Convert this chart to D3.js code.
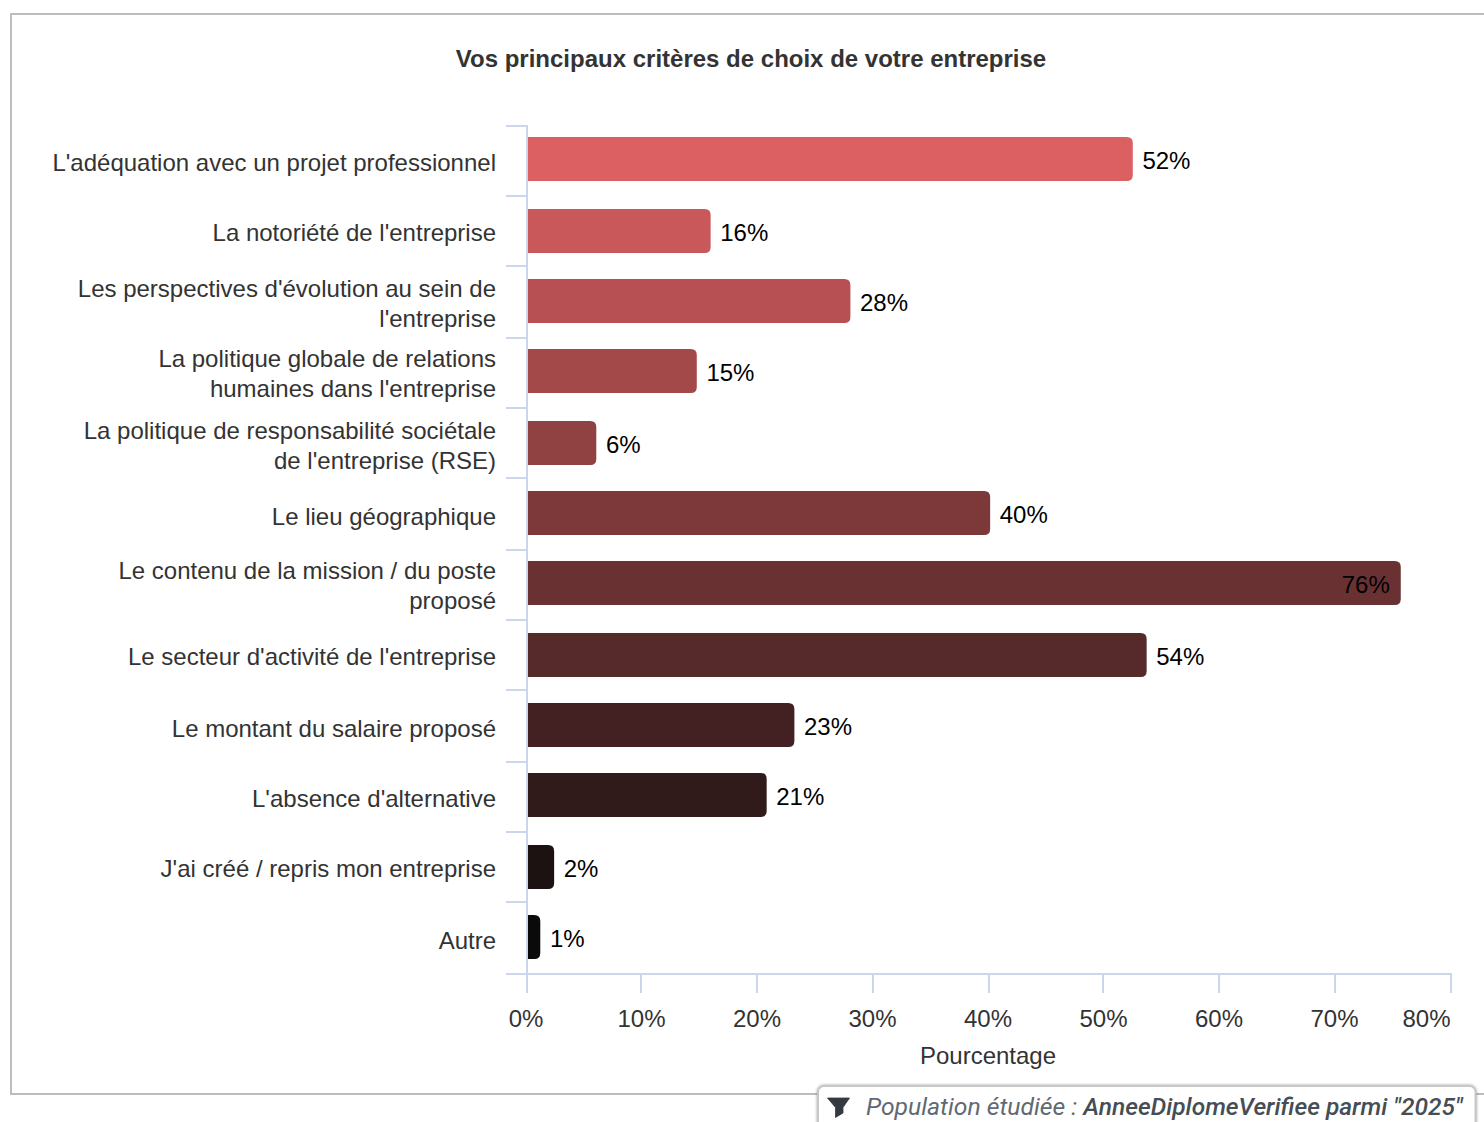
<!DOCTYPE html>
<html><head><meta charset="utf-8">
<script src="https://cdn.jsdelivr.net/npm/d3@7"></script>
<style>html,body{margin:0;padding:0;background:#fff;overflow:hidden}svg{display:block}</style>
</head><body><div id="chart"></div>
<script>
const chartTitle = "Vos principaux critères de choix de votre entreprise";
const axisTitle = "Pourcentage";
const categories = [
  ["L'adéquation avec un projet professionnel"],
  ["La notoriété de l'entreprise"],
  ["Les perspectives d'évolution au sein de","l'entreprise"],
  ["La politique globale de relations","humaines dans l'entreprise"],
  ["La politique de responsabilité sociétale","de l'entreprise (RSE)"],
  ["Le lieu géographique"],
  ["Le contenu de la mission / du poste","proposé"],
  ["Le secteur d'activité de l'entreprise"],
  ["Le montant du salaire proposé"],
  ["L'absence d'alternative"],
  ["J'ai créé / repris mon entreprise"],
  ["Autre"]
];
const values = [52.45,15.9,28,14.7,6,40.1,75.65,53.65,23.15,20.75,2.35,1.15];
const valueLabels = ["52%","16%","28%","15%","6%","40%","76%","54%","23%","21%","2%","1%"];
const xTicks = [0,10,20,30,40,50,60,70,80];

const W=1484,H=1122;
const svg=d3.select("#chart").append("svg").attr("width",W).attr("height",H);
const font="'Liberation Sans',Arial,sans-serif";
const x=d3.scaleLinear().domain([0,80]).range([527,1451]);
const y=d3.scaleBand().domain(d3.range(categories.length)).range([126,974]);
const color=d3.scaleLinear().domain([0,categories.length-1]).range(["#dc6062","#0a0a0a"]).interpolate(d3.interpolateRgb);
const snapOdd=v=>2*Math.floor((v-1)/2)+1, snapEven=v=>2*Math.floor(v/2);
const snapText=v=>2*Math.round((v-1.5)/2)+1;
const gridC="#ccd6eb", textC="#333333";

// panel
svg.append("rect").attr("x",11).attr("y",14).attr("width",W+20).attr("height",1080)
  .attr("fill","#fff").attr("stroke","#bdbdbd").attr("stroke-width",2);

svg.append("text").attr("x",751).attr("y",67).attr("text-anchor","middle")
  .attr("font-family",font).attr("font-weight","bold").attr("font-size",24).attr("fill",textC).text(chartTitle);

// y ticks + axis line
const yEdges=d3.range(categories.length).map(i=>y(i)).concat([974]);
svg.append("g").selectAll("line").data(yEdges).join("line")
  .attr("x1",506).attr("x2",527).attr("y1",d=>snapEven(d)).attr("y2",d=>snapEven(d))
  .attr("stroke",gridC).attr("stroke-width",2);
svg.append("line").attr("x1",527).attr("x2",527).attr("y1",125).attr("y2",974).attr("stroke",gridC).attr("stroke-width",2);

// x axis
const xAxisG=svg.append("g").attr("transform","translate(0,974)")
  .call(d3.axisBottom(x).tickValues(xTicks).tickFormat(d=>d+"%").tickSize(19).tickSizeOuter(0));
xAxisG.select(".domain").remove();
xAxisG.selectAll(".tick").attr("transform",d=>`translate(${snapOdd(x(d))},0)`);
xAxisG.selectAll(".tick line").attr("stroke",gridC).attr("stroke-width",2);
xAxisG.selectAll(".tick text").attr("font-family",font).attr("font-size",24).attr("fill",textC)
  .attr("y",53).attr("dy",0)
  .attr("x",d=>d===80?-0.5:x(d)-snapOdd(x(d))-1)
  .attr("text-anchor",d=>d===80?"end":"middle");
svg.append("line").attr("x1",506).attr("x2",1452).attr("y1",974).attr("y2",974).attr("stroke",gridC).attr("stroke-width",2);
svg.append("text").attr("x",988).attr("y",1064).attr("text-anchor","middle").attr("font-family",font)
  .attr("font-size",24).attr("fill",textC).text(axisTitle);

// category labels
const cg=svg.append("g").attr("font-family",font).attr("font-size",24).attr("fill",textC).attr("text-anchor","end");
categories.forEach((lines,i)=>{
  const cy=y(i)+y.bandwidth()/2;
  const t=cg.append("text").attr("x",496);
  lines.forEach((l,j)=>{
    t.append("tspan").attr("x",496).attr("y",snapText(cy+10+(j-(lines.length-1)/2)*30)).text(l);
  });
});

// bars
const barH=44,barR=6;
const barPath=(x0,x1,t)=>{const rr=Math.min(barR,x1-x0);return `M${x0},${t}H${x1-rr}Q${x1},${t} ${x1},${t+rr}V${t+barH-rr}Q${x1},${t+barH} ${x1-rr},${t+barH}H${x0}Z`;};
const barTop=i=>snapOdd(y(i)+12.6);
svg.append("g").selectAll("path").data(values).join("path")
  .attr("d",(d,i)=>barPath(x(0)+1,x(d),barTop(i)))
  .attr("fill",(d,i)=>color(i));

// value labels
svg.append("g").attr("font-family",font).attr("font-size",24).attr("fill","#000")
  .selectAll("text").data(values).join("text")
  .attr("x",(d,i)=>x(d)>1300?x(d)-11:x(d)+9.6)
  .attr("text-anchor",d=>x(d)>1300?"end":"start")
  .attr("y",(d,i)=>barTop(i)+32)
  .text((d,i)=>valueLabels[i]);

// filter tag
const tag=svg.append("g");
tag.append("rect").attr("x",818).attr("y",1086).attr("width",657.5).attr("height",60).attr("rx",6)
  .attr("fill","#fff").attr("stroke","#c8c8c8").attr("stroke-width",2)
  .style("filter","drop-shadow(0 0 1.5px rgba(0,0,0,.35))");
tag.append("path").attr("d","M827.5,1098H849.5L843,1107.5V1113L835.5,1117.5V1107.5Z").attr("fill","#343a40")
  .attr("stroke","#343a40").attr("stroke-width",0.8).attr("stroke-linejoin","round");
const ft=tag.append("text").attr("x",866).attr("y",1115).attr("font-family","Roboto,sans-serif").attr("font-style","italic");
ft.append("tspan").attr("fill","#5f6973").attr("font-size",24.7).text("Population étudiée : ");
ft.append("tspan").attr("fill","#454d55").attr("font-weight",500).attr("font-size",24.5).text('AnneeDiplomeVerifiee parmi "2025"');
</script></body></html>
